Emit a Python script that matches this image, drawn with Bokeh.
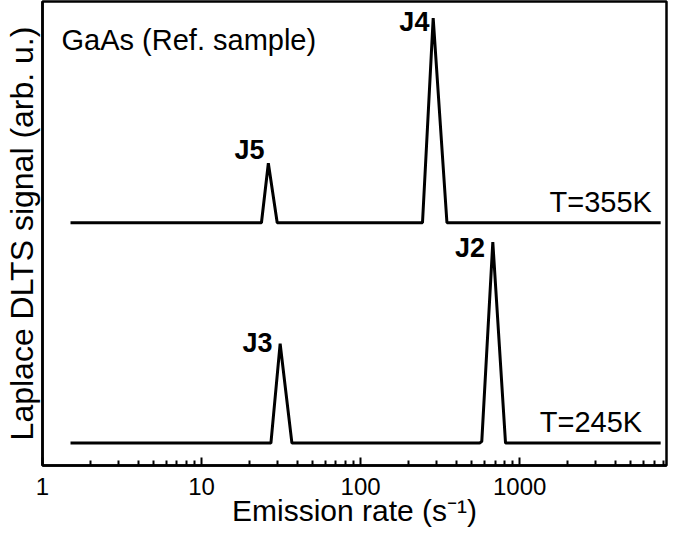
from bokeh.plotting import figure
from bokeh.models import FixedTicker, NumeralTickFormatter, Range1d, ColumnDataSource
from bokeh.embed import file_html
from bokeh.resources import INLINE
from bokeh.core.properties import value

# ---- data ----
# T = 245 K spectrum
rate_245 = [1.5, 27.3, 31.2, 37.0, 560, 578, 678, 815, 7700]
sig_245 = [0.0, 0.0, 0.451, 0.0, 0.0, 0.008, 0.912, 0.0, 0.0]
# T = 355 K spectrum (plotted with a vertical offset)
rate_355 = [1.5, 23.8, 26.3, 29.9, 245, 286, 349, 7700]
sig_355 = [0.0, 0.0, 0.270, 0.0, 0.0, 0.929, 0.0, 0.0]
offset_355 = 1.0

# peak labels
peak_names = ["J5", "J4", "J3", "J2"]
peak_lx = [24.9, 270.7, 27.9, 606.0]
peak_ly = [1.279, 1.863, 0.4027, 0.836]

# temperature labels
temp_text = ["T=355K", "T=245K"]
temp_x = [6780, 5890]
temp_y = [1.049, 0.0487]

sample_text = "GaAs (Ref. sample)"
sample_x = 1.317
sample_y = 1.783

major_ticks = [1, 10, 100, 1000]
minor_ticks = [m * d for d in (1, 10, 100, 1000) for m in range(2, 10)]

FONT = "Liberation Sans"

p = figure(width=669, height=535, x_axis_type="log",
           x_range=Range1d(1, 8380), y_range=Range1d(-0.1018, 2.0044),
           output_backend="svg", toolbar_location=None,
           min_border_left=41, min_border_right=3, min_border_top=1,
           min_border_bottom=70)
p.grid.visible = False
p.outline_line_color = "black"
p.outline_line_width = 2.5
p.background_fill_color = "white"
p.border_fill_color = "white"

xa = p.xaxis[0]
xa.ticker = FixedTicker(ticks=major_ticks, minor_ticks=minor_ticks)
xa.formatter = NumeralTickFormatter(format="0")
xa.major_tick_in = 8
xa.major_tick_out = 0
xa.minor_tick_in = 5
xa.minor_tick_out = 0
xa.axis_line_width = 2.5
xa.major_tick_line_width = 2
xa.minor_tick_line_width = 2
xa.major_tick_line_color = "black"
xa.minor_tick_line_color = "black"
xa.axis_line_color = "black"
xa.major_label_text_font = FONT
xa.major_label_text_font_size = "24px"
xa.major_label_text_color = "black"
xa.major_label_standoff = 12
xa.axis_label = "Emission rate (s\u207b\u00b9)"
xa.axis_label_text_font = FONT
xa.axis_label_text_font_size = "30px"
xa.axis_label_text_font_style = "normal"
xa.axis_label_text_color = "black"
xa.axis_label_standoff = -4

ya = p.yaxis[0]
ya.ticker = FixedTicker(ticks=[])
ya.major_tick_in = 0
ya.major_tick_out = 0
ya.minor_tick_in = 0
ya.minor_tick_out = 0
ya.axis_line_width = 2.5
ya.axis_line_color = "black"
ya.axis_label = "Laplace DLTS signal (arb. u.)"
ya.axis_label_text_font = FONT
ya.axis_label_text_font_size = "32px"
ya.axis_label_text_font_style = "normal"
ya.axis_label_text_color = "black"
ya.axis_label_standoff = 3

p.line(rate_245, sig_245, line_color="black", line_width=3)
p.line(rate_355, [s + offset_355 for s in sig_355], line_color="black", line_width=3)

src_peaks = ColumnDataSource(dict(x=peak_lx, y=peak_ly, t=peak_names))
p.text(x="x", y="y", text="t", source=src_peaks, text_font=value(FONT),
       text_font_size="27px", text_font_style="bold", text_align="right",
       text_baseline="alphabetic", text_color="black", y_offset=-11)

src_temp = ColumnDataSource(dict(x=temp_x, y=temp_y, t=temp_text))
p.text(x="x", y="y", text="t", source=src_temp, text_font=value(FONT),
       text_font_size="29px", text_align="right",
       text_baseline="alphabetic", text_color="black", y_offset=-10)

p.text(x=[sample_x], y=[sample_y], text=[sample_text], text_font=value(FONT),
       text_font_size="29px", text_align="left",
       text_baseline="alphabetic", text_color="black", y_offset=-10)

open("out.html", "w").write(file_html(p, INLINE))
